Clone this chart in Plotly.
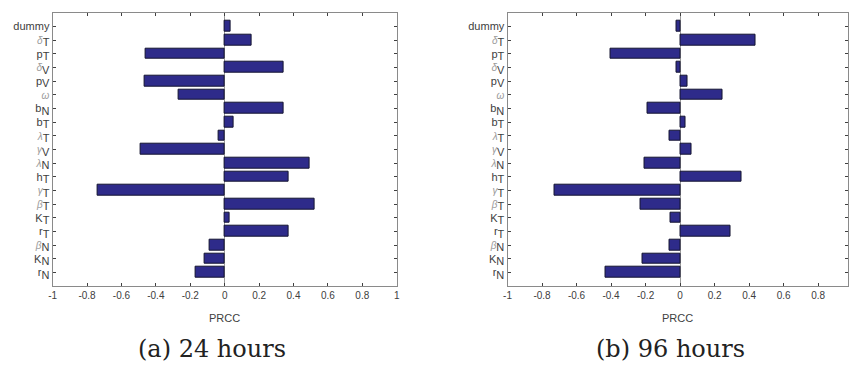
import plotly.graph_objects as go

W, H = 851, 367

# categories bottom -> top
params = ["r_N", "K_N", "beta_N", "r_T", "K_T", "beta_T", "gamma_T", "h_T", "lambda_N",
          "gamma_V", "lambda_T", "b_T", "b_N", "omega", "p_V", "delta_V", "p_T", "delta_T", "dummy"]

prcc_24h = [-0.167, -0.115, -0.089, 0.372, 0.029, 0.524, -0.740, 0.372, 0.496,
            -0.490, -0.037, 0.052, 0.343, -0.267, -0.465, 0.340, -0.460, 0.155, 0.035]
prcc_96h = [-0.435, -0.220, -0.060, 0.291, -0.056, -0.230, -0.728, 0.356, -0.205,
            0.069, -0.060, 0.032, -0.188, 0.247, 0.042, -0.020, -0.406, 0.435, -0.020]

x_ticks = [-1, -0.8, -0.6, -0.4, -0.2, 0, 0.2, 0.4, 0.6, 0.8, 1]
x_ticklabels = ["-1", "-0.8", "-0.6", "-0.4", "-0.2", "0", "0.2", "0.4", "0.6", "0.8", "1"]


def g(ch):
    return "<span style='color:#9a9a9a;font-size:10px'><i>%s</i></span>" % ch


def s(ch):
    return "<sub><span style='font-size:11px'>%s</span></sub>" % ch


label_map = {
    "r_N": "r" + s("N"), "K_N": "K" + s("N"), "beta_N": g("β") + s("N"),
    "r_T": "r" + s("T"), "K_T": "K" + s("T"), "beta_T": g("β") + s("T"),
    "gamma_T": g("γ") + s("T"), "h_T": "h" + s("T"), "lambda_N": g("λ") + s("N"),
    "gamma_V": g("γ") + s("V"), "lambda_T": g("λ") + s("T"),
    "b_T": "b" + s("T"), "b_N": "b" + s("N"), "omega": g("ω"),
    "p_V": "p" + s("V"), "delta_V": g("δ") + s("V"), "p_T": "p" + s("T"),
    "delta_T": g("δ") + s("T"), "dummy": "dummy",
}
y_ticklabels = [label_map[p] for p in params]
idx = list(range(len(params)))

fig = go.Figure()
for vals, xa, ya in [(prcc_24h, "x", "y"), (prcc_96h, "x2", "y2")]:
    fig.add_trace(go.Bar(x=vals, y=idx, orientation="h", width=0.8,
                         marker=dict(color="#2e2b8a", line=dict(color="#141430", width=1)),
                         xaxis=xa, yaxis=ya, showlegend=False))

SANS = "Liberation Sans, Arial, sans-serif"
font = dict(family=SANS, size=10, color="#404040")
axcol = "#8a8a8a"
ytop, ybot = 12.7, 286

common_x = dict(tickmode="array", tickvals=x_ticks, ticktext=x_ticklabels, ticks="inside",
                ticklen=3, tickcolor="#404040", showline=True, linecolor=axcol, mirror="ticks",
                showgrid=False, zeroline=True, zerolinecolor="#9a9a9a", zerolinewidth=1,
                tickfont=font)
common_y = dict(tickmode="array", tickvals=idx, ticktext=y_ticklabels, ticks="inside",
                ticklen=3, tickcolor="#404040", showline=True, linecolor=axcol, mirror="ticks",
                showgrid=False, zeroline=False, range=[-1, 19],
                tickfont=dict(family=SANS, size=11, color="#404040"))

fig.update_layout(
    width=W, height=H, margin=dict(l=0, r=0, t=0, b=0),
    paper_bgcolor="white", plot_bgcolor="white", bargap=0,
    xaxis=dict(domain=[49 / W, 396 / W], range=[-1, 1], anchor="y", **common_x),
    yaxis=dict(domain=[1 - ybot / H, 1 - ytop / H], anchor="x", **common_y),
    xaxis2=dict(domain=[507.7 / W, 1.0], range=[-1, 0.973], anchor="y2", **common_x),
    yaxis2=dict(domain=[1 - ybot / H, 1 - ytop / H], anchor="x2", **common_y),
)

for cx in [222.5, 679.5]:
    fig.add_annotation(text="PRCC", x=cx / W, y=1 - 318 / H, xref="paper", yref="paper",
                       xanchor="center", yanchor="middle", showarrow=False,
                       font=dict(family=SANS, size=11, color="#404040"))
for cx, cap in [(210, "(a) 24 hours"), (672, "(b) 96 hours")]:
    fig.add_annotation(text=cap, x=cx / W, y=1 - 349 / H, xref="paper", yref="paper",
                       xanchor="center", yanchor="middle", showarrow=False,
                       font=dict(family="DejaVu Serif, serif", size=24, color="#222"))

fig.write_html("out.html")
